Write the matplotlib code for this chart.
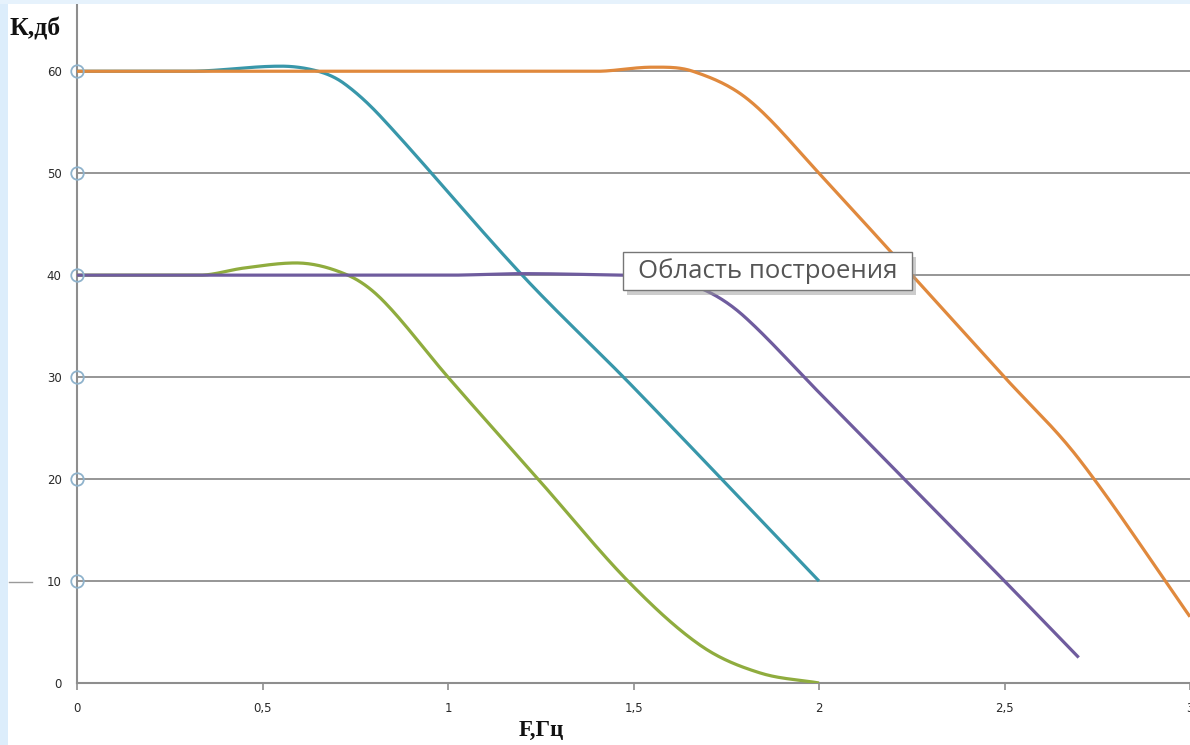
import numpy as np
import matplotlib
matplotlib.use("Agg")
import matplotlib.pyplot as plt
from matplotlib.patches import Rectangle
from matplotlib.lines import Line2D

# ---- data ----
orange_x = [0, 0.7, 1.4, 1.55, 1.66, 1.81, 2.0, 2.5, 2.7, 3.0]
orange_y = [60, 60, 60, 60.4, 60, 57.2, 50, 30, 22, 6.5]
teal_x = [0, 0.3, 0.55, 0.65, 0.72, 0.82, 1.2, 1.5, 2.0]
teal_y = [60, 60, 60.5, 60, 58.8, 55.5, 40, 29, 10]
green_x = [0, 0.33, 0.45, 0.59, 0.73, 0.825, 1.0, 1.25, 1.485, 1.68, 1.84, 2.0]
green_y = [40, 40, 40.7, 41.2, 40, 37.5, 30, 19.7, 10, 3.7, 1.0, 0]
purple_x = [0, 1.0, 1.2, 1.45, 1.58, 1.7, 1.8, 2.0, 2.5, 2.7]
purple_y = [40, 40, 40.15, 40, 39.8, 38.4, 35.9, 28.5, 10, 2.5]

x_ticks = [0, 0.5, 1, 1.5, 2, 2.5, 3]
x_ticklabels = ["0", "0,5", "1", "1,5", "2", "2,5", "3"]
y_ticks = [0, 10, 20, 30, 40, 50, 60]
y_ticklabels = ["0", "10", "20", "30", "40", "50", "60"]
marker_y = [10, 20, 30, 40, 50, 60]


def smooth(xs, ys, n=30):
    """Smoothed line (cubic Hermite through the read points, flat at extrema)."""
    x = np.asarray(xs, float)
    y = np.asarray(ys, float)
    h = np.diff(x)
    delta = np.diff(y) / h
    m = np.zeros_like(y)
    for k in range(1, len(x) - 1):
        if delta[k - 1] * delta[k] <= 0:
            m[k] = 0.0
        else:
            m[k] = (y[k + 1] - y[k - 1]) / (x[k + 1] - x[k - 1])
    m[0] = delta[0]
    m[-1] = delta[-1]
    X, Y = [], []
    t = np.linspace(0, 1, n)
    for k in range(len(x) - 1):
        h00 = 2 * t ** 3 - 3 * t ** 2 + 1
        h10 = t ** 3 - 2 * t ** 2 + t
        h01 = -2 * t ** 3 + 3 * t ** 2
        h11 = t ** 3 - t ** 2
        X.append(x[k] + t * h[k])
        Y.append(h00 * y[k] + h10 * h[k] * m[k] + h01 * y[k + 1] + h11 * h[k] * m[k + 1])
    return np.concatenate(X), np.concatenate(Y)


W, H = 1190, 745
fig = plt.figure(figsize=(W / 100, H / 100), dpi=100, facecolor="white")

# axes: x=0 at px 77, x=3 at px 1190; y=0 at px 683, top at px 5
ax = fig.add_axes([77 / W, (H - 683) / H, (1190 - 77) / W, (683 - 5) / H])
ax.set_xlim(0, 3)
ax.set_ylim(0, 66.5)
ax.set_facecolor("white")

gridc = "#8e8e8e"
for v in marker_y:
    ax.axhline(v, color=gridc, lw=1.3, zorder=1)

for s in ["top", "right"]:
    ax.spines[s].set_visible(False)
for s in ["left", "bottom"]:
    ax.spines[s].set_color(gridc)
    ax.spines[s].set_linewidth(1.5)

ax.set_xticks(x_ticks)
ax.set_xticklabels(x_ticklabels)
ax.set_yticks(y_ticks)
ax.set_yticklabels(y_ticklabels)
ax.tick_params(axis="x", direction="out", length=5, width=1.2, color=gridc,
               pad=9, labelsize=8.5, labelcolor="#2a2a2a")
ax.tick_params(axis="y", length=0, pad=11, labelsize=8.5, labelcolor="#2a2a2a")

lw = 2.3
series = [
    (green_x, green_y, "#8fac3e"),
    (teal_x, teal_y, "#3897aa"),
    (purple_x, purple_y, "#6f5c9e"),
    (orange_x, orange_y, "#e0893d"),
]
for xs, ys, c in series:
    sx, sy = smooth(xs, ys)
    ax.plot(sx, sy, color=c, lw=lw, solid_capstyle="butt", zorder=3)

ax.plot([0] * len(marker_y), marker_y, linestyle="none", marker="o",
        markersize=9, markerfacecolor="none", markeredgecolor="#8fb3cc",
        markeredgewidth=1.3, zorder=5, clip_on=False)

# axis titles
fig.text(9 / W, 1 - 29 / H, "К,дб", family=["Liberation Serif", "DejaVu Serif"],
         fontsize=18.5, fontweight="bold", color="#111111", va="center", ha="left")
fig.text(541 / W, 1 - 730 / H, "F,Гц", family=["Liberation Serif", "DejaVu Serif"],
         fontsize=16.5, fontweight="bold", color="#111111", va="center", ha="center")

# light blue slide background strips
fig.patches.append(Rectangle((0, 0), 8 / W, 1, transform=fig.transFigure,
                             facecolor="#dcedfb", edgecolor="none", zorder=0))
fig.patches.append(Rectangle((0, 1 - 4 / H), 1, 4 / H, transform=fig.transFigure,
                             facecolor="#e6f2fc", edgecolor="none", zorder=0))
# stray dash near 10
fig.lines.append(Line2D([9 / W, 32 / W], [1 - 582 / H, 1 - 582 / H],
                        transform=fig.transFigure, color="#9a9a9a", lw=1))

# tooltip "Область построения"
bx0, by0, bx1, by1 = 623, 252, 912, 290
fig.patches.append(Rectangle(((bx0 + 4) / W, 1 - (by1 + 5) / H), (bx1 - bx0) / W,
                             (by1 - by0) / H, transform=fig.transFigure,
                             facecolor="#9a9a9a", edgecolor="none", alpha=0.5, zorder=8))
fig.patches.append(Rectangle((bx0 / W, 1 - by1 / H), (bx1 - bx0) / W,
                             (by1 - by0) / H, transform=fig.transFigure,
                             facecolor="white", edgecolor="#767676", lw=1, zorder=9))
fig.text((bx0 + bx1) / 2 / W, 1 - (by0 + by1) / 2 / H, "Область построения",
         family=["Open Sans", "DejaVu Sans"], fontsize=18.5, color="#555555",
         ha="center", va="center", zorder=10)

fig.savefig("out.png", dpi=100, facecolor="white")
